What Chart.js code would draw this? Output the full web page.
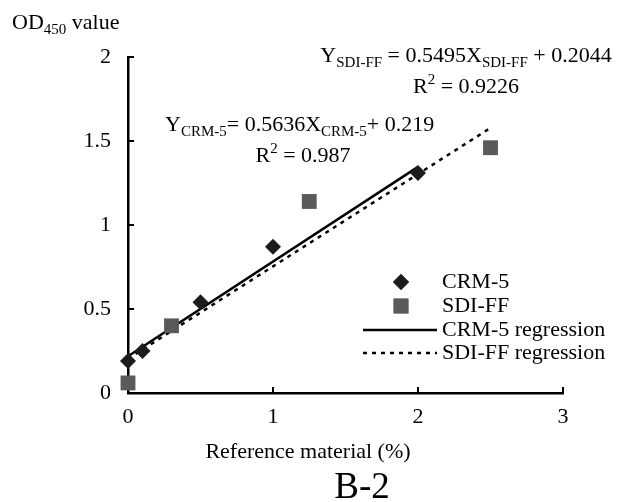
<!DOCTYPE html>
<html>
<head>
<meta charset="utf-8">
<script src="https://cdn.jsdelivr.net/npm/chart.js@4"></script>
<style>
  html, body { margin: 0; padding: 0; background: #fff; }
  #wrap { width: 620px; height: 502px; }
</style>
</head>
<body>
<div id="wrap"><canvas id="chart" width="620" height="502"></canvas></div>
<script>
// data
const crmX = [0, 0.1, 0.5, 1, 2];
const crmY = [0.19, 0.25, 0.54, 0.87, 1.31];
const sdiX = [0, 0.3, 1.25, 2.5];
const sdiY = [0.06, 0.40, 1.14, 1.46];
// regression line end points
const crmFitX = [0, 2];
const crmFitY = [0.219, 1.346];
const sdiFitX = [0, 2.5];
const sdiFitY = [0.204, 1.578];
const xTicks = [0, 1, 2, 3];
const yTicks = [0, 0.5, 1, 1.5, 2];

const FONT = '"Liberation Serif", "Times New Roman", serif';
const pts = (xs, ys) => xs.map((x, i) => ({x: x, y: ys[i]}));

// draws text runs with subscripts / superscripts
function richText(ctx, parts, x, y, align) {
    const base = 22, small = 15;
    const widthOf = p => {
        ctx.font = (p[1] === 'n' ? base : small) + 'px ' + FONT;
        return ctx.measureText(p[0]).width;
    };
    let total = parts.reduce((s, p) => s + widthOf(p), 0);
    let cx = align === 'center' ? x - total / 2 : x;
    ctx.textBaseline = 'alphabetic';
    ctx.textAlign = 'left';
    parts.forEach(p => {
        const w = widthOf(p);
        let dy = 0;
        if (p[1] === 'sub') dy = 5;
        if (p[1] === 'sup') dy = -9;
        ctx.fillText(p[0], cx, y + dy);
        cx += w;
    });
}

const annotations = {
    id: 'annotations',
    afterDraw(chart) {
        const ctx = chart.ctx;
        const xs = chart.scales.x, ys = chart.scales.y;
        ctx.save();
        ctx.fillStyle = '#000';
        ctx.strokeStyle = '#000';

        // inward tick marks
        ctx.lineWidth = 2;
        ctx.beginPath();
        xTicks.slice(1).forEach(v => {
            const px = xs.getPixelForValue(v);
            ctx.moveTo(px, ys.bottom);
            ctx.lineTo(px, ys.bottom - 6);
        });
        yTicks.slice(1).forEach(v => {
            const py = ys.getPixelForValue(v);
            ctx.moveTo(xs.left, py);
            ctx.lineTo(xs.left + 6, py);
        });
        ctx.stroke();

        richText(ctx, [['OD', 'n'], ['450', 'sub'], [' value', 'n']], 12, 29, 'left');
        richText(ctx, [['Y', 'n'], ['CRM-5', 'sub'], ['= 0.5636X', 'n'], ['CRM-5', 'sub'], ['+ 0.219', 'n']], 165, 131, 'left');
        richText(ctx, [['R', 'n'], ['2', 'sup'], [' = 0.987', 'n']], 303, 162, 'center');
        richText(ctx, [['Y', 'n'], ['SDI-FF', 'sub'], [' = 0.5495X', 'n'], ['SDI-FF', 'sub'], [' + 0.2044', 'n']], 466, 62, 'center');
        richText(ctx, [['R', 'n'], ['2', 'sup'], [' = 0.9226', 'n']], 466, 93, 'center');

        ctx.font = '22px ' + FONT;
        ctx.textAlign = 'center';
        ctx.textBaseline = 'middle';
        ctx.fillText('Reference material (%)', 308, 452);
        ctx.font = '37px ' + FONT;
        ctx.textBaseline = 'alphabetic';
        ctx.fillText('B-2', 362, 498);

        // legend
        const ds = chart.data.datasets;
        const lx = 401, tx = 442;
        const rows = [282, 306, 330, 353];
        ctx.font = '22px ' + FONT;
        ctx.textAlign = 'left';
        ctx.textBaseline = 'middle';
        ds.forEach((d, i) => {
            const y = rows[i];
            if (d.showLine) {
                ctx.save();
                ctx.strokeStyle = d.borderColor;
                ctx.lineWidth = d.borderWidth;
                ctx.setLineDash(d.borderDash || []);
                ctx.beginPath();
                ctx.moveTo(363, y);
                ctx.lineTo(437, y);
                ctx.stroke();
                ctx.restore();
            } else {
                ctx.fillStyle = d.backgroundColor;
                Chart.helpers.drawPoint(ctx, {pointStyle: d.pointStyle, radius: d.pointRadius, borderWidth: 0}, lx, y);
                ctx.fill();
            }
            ctx.fillStyle = '#000';
            ctx.fillText(d.label, tx, y);
        });
        ctx.restore();
    }
};

const lineDataset = (label, data, dash) => ({
    label: label,
    data: data,
    showLine: true,
    borderColor: '#000',
    borderWidth: 2.5,
    borderDash: dash,
    pointRadius: 0,
    fill: false
});

new Chart(document.getElementById('chart'), {
    type: 'scatter',
    data: {
        datasets: [
            {
                label: 'CRM-5',
                data: pts(crmX, crmY),
                pointStyle: 'rectRot',
                pointRadius: 8,
                backgroundColor: '#1c1c1c',
                borderWidth: 0
            },
            {
                label: 'SDI-FF',
                data: pts(sdiX, sdiY),
                pointStyle: 'rect',
                pointRadius: 10.5,
                backgroundColor: '#5a5a5a',
                borderWidth: 0
            },
            lineDataset('CRM-5 regression', pts(crmFitX, crmFitY), []),
            lineDataset('SDI-FF regression', pts(sdiFitX, sdiFitY), [4, 5])
        ]
    },
    options: {
        responsive: false,
        animation: false,
        clip: false,
        layout: { padding: { left: 0, top: 57, right: 57, bottom: 0 } },
        plugins: {
            legend: { display: false },
            tooltip: { enabled: false }
        },
        scales: {
            x: {
                type: 'linear',
                min: 0,
                max: 3,
                afterBuildTicks: s => { s.ticks = xTicks.map(v => ({value: v})); },
                afterFit: s => { s.height = 109; },
                ticks: { color: '#000', font: { family: FONT, size: 22 }, padding: 11 },
                grid: { drawOnChartArea: false, drawTicks: false },
                border: { color: '#000', width: 2.5 }
            },
            y: {
                type: 'linear',
                min: 0,
                max: 2,
                afterBuildTicks: s => { s.ticks = yTicks.map(v => ({value: v})); },
                afterFit: s => { s.width = 128; },
                ticks: {
                    color: '#000',
                    font: { family: FONT, size: 22 },
                    padding: 17,
                    callback: v => String(v)
                },
                grid: { drawOnChartArea: false, drawTicks: false },
                border: { color: '#000', width: 2.5 }
            }
        }
    },
    plugins: [annotations]
});
</script>
</body>
</html>
